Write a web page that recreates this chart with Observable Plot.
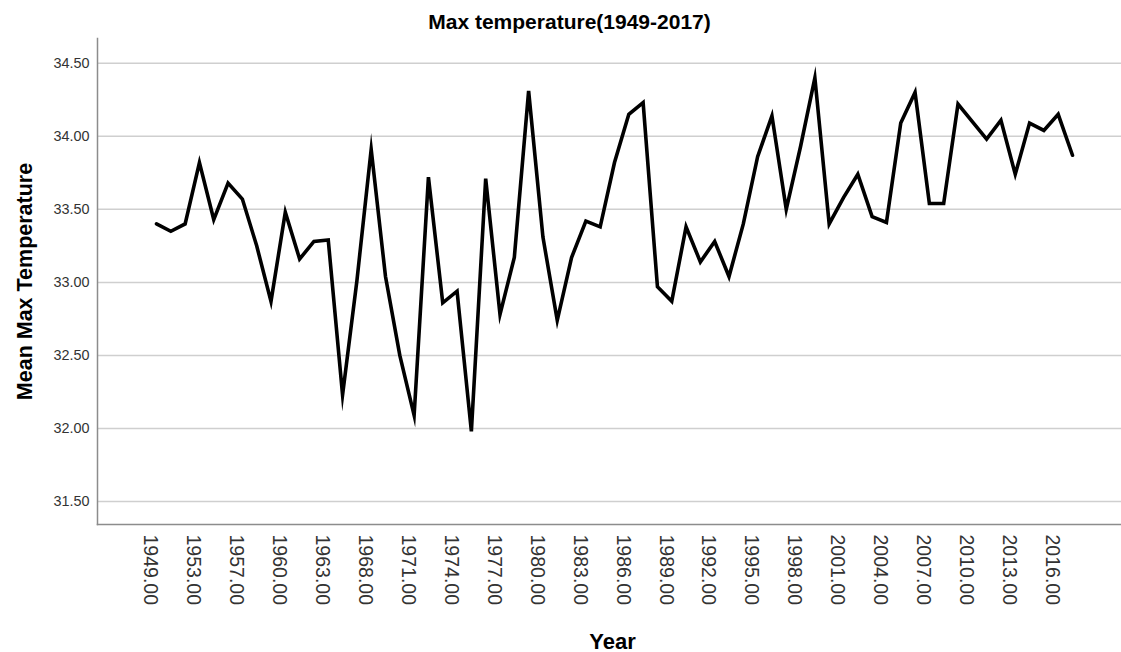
<!DOCTYPE html>
<html>
<head>
<meta charset="utf-8">
<script src="https://cdn.jsdelivr.net/npm/d3@7"></script>
<script src="https://cdn.jsdelivr.net/npm/@observablehq/plot@0.6"></script>
<style>
  html, body { margin: 0; padding: 0; background: #fff; }
  svg { display: block; }
</style>
</head>
<body>
<div id="chart"></div>
<script>
const years = [1949, 1950, 1951, 1953, 1954, 1955, 1957, 1958, 1959, 1960, 1961, 1962, 1963, 1964, 1965,
  1968, 1969, 1970, 1971, 1972, 1973, 1974, 1975, 1976, 1977, 1978, 1979, 1980, 1981, 1982, 1983,
  1984, 1985, 1986, 1987, 1988, 1989, 1990, 1991, 1992, 1993, 1994, 1995, 1996, 1997, 1998, 1999,
  2000, 2001, 2002, 2003, 2004, 2005, 2006, 2007, 2008, 2009, 2010, 2011, 2012, 2013, 2014, 2015,
  2016, 2017];
const maxTemp = [33.40, 33.35, 33.40, 33.82, 33.43, 33.68, 33.57, 33.25, 32.87, 33.48, 33.16, 33.28, 33.29, 32.23, 33.01,
  33.91, 33.04, 32.50, 32.09, 33.72, 32.86, 32.94, 31.98, 33.71, 32.78, 33.17, 34.31, 33.31, 32.74, 33.17, 33.42,
  33.38, 33.82, 34.15, 34.23, 32.97, 32.87, 33.38, 33.14, 33.28, 33.04, 33.40, 33.86, 34.14, 33.50, 33.93, 34.40,
  33.40, 33.58, 33.74, 33.45, 33.41, 34.09, 34.30, 33.54, 33.54, 34.22, 34.10, 33.98, 34.11, 33.74, 34.09, 34.04,
  34.15, 33.87];
const xTickYears = [1949, 1953, 1957, 1960, 1963, 1968, 1971, 1974, 1977, 1980, 1983, 1986, 1989, 1992,
  1995, 1998, 2001, 2004, 2007, 2010, 2013, 2016];
const yTicks = [31.5, 32.0, 32.5, 33.0, 33.5, 34.0, 34.5];
const yDomain = [31.343, 34.669];
const titleText = "Max temperature(1949-2017)";
const xTitle = "Year";
const yTitle = "Mean Max Temperature";

const font = "'Liberation Sans', Arial, sans-serif";

const chart = Plot.plot({
  width: 1121,
  height: 652,
  marginLeft: 97,
  marginRight: 0,
  marginTop: 38,
  marginBottom: 128,
  style: { fontFamily: font, background: "#fff", overflow: "visible" },
  x: { type: "point", domain: years, padding: 0, round: false, insetLeft: 59, insetRight: 49 },
  y: { domain: yDomain },
  marks: [
    Plot.gridY(yTicks, { stroke: "#cfcfcf", strokeOpacity: 1, strokeWidth: 1.5 }),
    Plot.frame({ anchor: "left", stroke: "#8c8c8c", strokeWidth: 1.5 }),
    Plot.frame({ anchor: "bottom", stroke: "#8c8c8c", strokeWidth: 1.5 }),
    Plot.axisY(yTicks, {
      tickSize: 0, tickPadding: 8, fontSize: 14.4, fill: "#333",
      tickFormat: d => d.toFixed(2), label: null
    }),
    Plot.axisX(xTickYears, {
      tickSize: 0, tickPadding: 10, tickRotate: 90, fontSize: 19.5, fill: "#333", dx: -6,
      tickFormat: d => d + ".00", label: null
    }),
    Plot.line(maxTemp, {
      x: (d, i) => years[i], y: d => d,
      stroke: "#000", strokeWidth: 3.6, strokeLinejoin: "miter", strokeMiterlimit: 10
    }),
    Plot.text([titleText], {
      frameAnchor: "top", lineAnchor: "middle", dy: -16, dx: -40,
      fontSize: 21, fontWeight: "bold", fill: "#000"
    }),
    Plot.text([xTitle], {
      frameAnchor: "bottom", lineAnchor: "middle", dy: 117, dx: 3,
      fontSize: 22, fontWeight: "bold", fill: "#000"
    }),
    Plot.text([yTitle], {
      frameAnchor: "left", lineAnchor: "middle", dx: -72, rotate: -90, textAnchor: "middle",
      fontSize: 21.5, fontWeight: "bold", fill: "#000"
    })
  ]
});
document.getElementById("chart").appendChild(chart);
</script>
</body>
</html>
